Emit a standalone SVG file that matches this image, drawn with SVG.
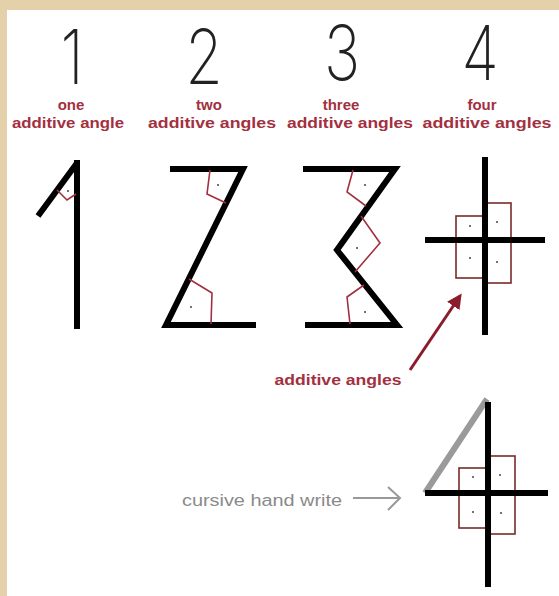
<svg xmlns="http://www.w3.org/2000/svg" width="559" height="596" viewBox="0 0 559 596">
<style>
.num{font-family:Inter,"Liberation Sans",sans-serif;font-weight:200;font-size:76px;fill:#222;text-anchor:middle}
.lbl{font-family:"Liberation Sans Narrow","Liberation Sans",Arial,sans-serif;font-weight:bold;font-size:15px;fill:#a33040;text-anchor:middle}
.blk{stroke:#000;stroke-width:6;fill:none;stroke-linecap:butt;stroke-linejoin:miter}
.ang{stroke:#a33040;stroke-width:1.6;fill:none}
.box{stroke:#7a2a2a;stroke-width:1.6;fill:none}
.dot{fill:#444}
</style>
<defs>
<marker id="ah" viewBox="0 0 10 10" refX="8" refY="5" markerWidth="5" markerHeight="5" orient="auto">
<path d="M0,0 L10,5 L0,10 z" fill="#8b1c2b"/>
</marker>
</defs>
<rect width="559" height="596" fill="#e4d1aa"/>
<rect x="7" y="10" width="552" height="586" fill="#fff"/>

<g id="digit1">
<text class="num" transform="translate(72,84) scale(0.8,1)">1</text>
<text class="lbl" x="71" y="110">one</text>
<text class="lbl" x="68" y="128" textLength="112" lengthAdjust="spacingAndGlyphs">additive angle</text>
<path class="blk" d="M38,216 L77,163 M77,160 L77,329"/>
<path class="ang" d="M57,190 L67,200 L76,194"/>
<circle class="dot" cx="68" cy="191" r="1"/>
</g>

<g id="digit2">
<text class="num" transform="translate(204,84) scale(0.8,1)">2</text>
<text class="lbl" x="209" y="110">two</text>
<text class="lbl" x="212" y="128" textLength="128" lengthAdjust="spacingAndGlyphs">additive angles</text>
<path class="blk" d="M170,169 L243,169 L166,325 L256,325"/>
<path class="ang" d="M210,170 L207,194 L226,203"/>
<path class="ang" d="M189,279 L212,293 L211,324"/>
<circle class="dot" cx="218" cy="185" r="1"/>
<circle class="dot" cx="191" cy="307" r="1"/>
</g>

<g id="digit3">
<text class="num" transform="translate(342,80) scale(0.8,1)">3</text>
<text class="lbl" x="341" y="110">three</text>
<text class="lbl" x="350" y="128" textLength="126" lengthAdjust="spacingAndGlyphs">additive angles</text>
<path class="blk" d="M303,169 L395,169 L337,250 L397,325 L305,325"/>
<path class="ang" d="M353,170 L347,192 L366,206"/>
<path class="ang" d="M361,216 L380,243 L355,272"/>
<path class="ang" d="M364,285 L347,297 L350,324"/>
<circle class="dot" cx="365" cy="185" r="1"/>
<circle class="dot" cx="357" cy="248" r="1"/>
<circle class="dot" cx="365" cy="312" r="1"/>
</g>

<g id="digit4">
<text class="num" transform="translate(480,80) scale(0.8,1)">4</text>
<text class="lbl" x="482" y="110">four</text>
<text class="lbl" x="487" y="128" textLength="129" lengthAdjust="spacingAndGlyphs">additive angles</text>
<rect class="box" x="456" y="216" width="29" height="62"/>
<rect class="box" x="485" y="203" width="26" height="80"/>
<path class="blk" d="M485,157 L485,335 M425,240 L545,240"/>
<circle class="dot" cx="470" cy="226" r="1"/>
<circle class="dot" cx="497" cy="222" r="1"/>
<circle class="dot" cx="470" cy="258" r="1"/>
<circle class="dot" cx="497" cy="262" r="1"/>
</g>

<g id="label-additive">
<text class="lbl" x="338" y="385" textLength="127" lengthAdjust="spacingAndGlyphs">additive angles</text>
</g>

<g id="cursive4">
<rect class="box" x="459" y="468" width="29" height="60"/>
<rect class="box" x="488" y="456" width="27" height="78"/>
<path d="M425,493 L487,399" stroke="#9a9a9a" stroke-width="6" fill="none"/>
<path class="blk" d="M488,402 L488,587 M425,493 L548,493"/>
<circle class="dot" cx="473" cy="477" r="1"/>
<circle class="dot" cx="500" cy="475" r="1"/>
<circle class="dot" cx="473" cy="512" r="1"/>
<circle class="dot" cx="501" cy="513" r="1"/>
</g>

<g id="label-cursive">
<text x="262" y="506" font-family="'Liberation Sans Narrow','Liberation Sans',Arial,sans-serif" font-size="16" fill="#8a8a8a" text-anchor="middle" textLength="160" lengthAdjust="spacingAndGlyphs">cursive hand write</text>
</g>

<g id="connectors">
<path d="M410,370 L460,296" stroke="#8b1c2b" stroke-width="3" fill="none" marker-end="url(#ah)"/>
<path d="M353,498 L399,498 M388,487 L400,498 L388,510" stroke="#999" stroke-width="2" fill="none"/>
</g>
</svg>
